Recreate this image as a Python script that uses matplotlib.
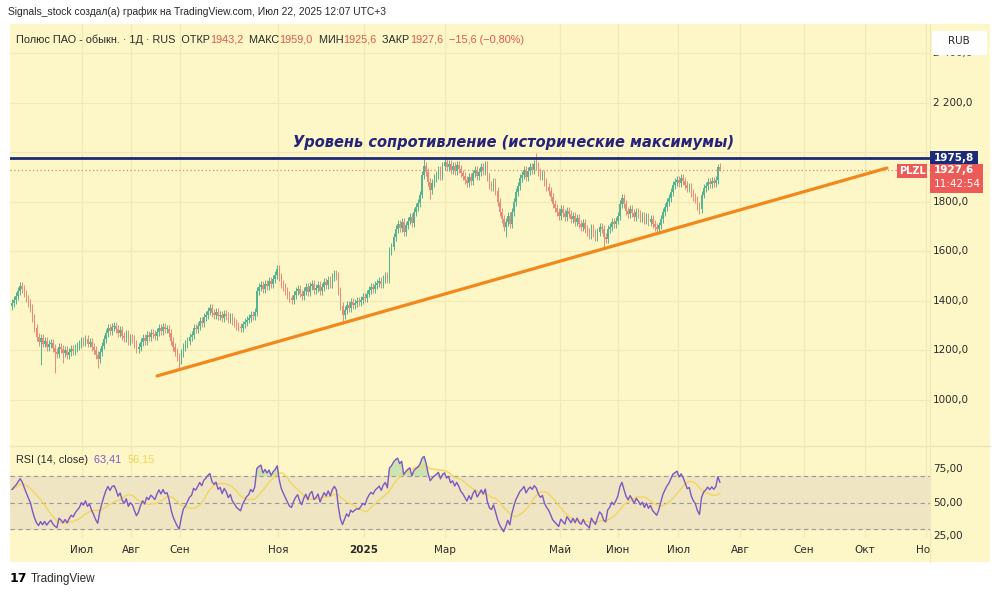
import numpy as np
import pandas as pd
import matplotlib
matplotlib.use("Agg")
import matplotlib.pyplot as plt
import matplotlib.transforms as mtrans
from matplotlib.patches import Rectangle, FancyBboxPatch

closes = [
    1390, 1405, 1420, 1440, 1462, 1450, 1430, 1410, 1390, 1370,
    1330, 1290, 1255, 1235, 1250, 1228, 1240, 1215, 1225, 1232,
    1210, 1195, 1185, 1215, 1205, 1190, 1200, 1182, 1195, 1205,
    1198, 1210, 1218, 1225, 1240, 1232, 1245, 1228, 1235, 1215,
    1200, 1180, 1165, 1195, 1220, 1245, 1270, 1290, 1278, 1295,
    1300, 1288, 1270, 1282, 1260, 1250, 1265, 1240, 1252, 1245,
    1225, 1205, 1215, 1235, 1250, 1240, 1262, 1255, 1270, 1265,
    1258, 1275, 1290, 1280, 1295, 1285, 1288, 1270, 1240, 1215,
    1195, 1175, 1160, 1190, 1215, 1225, 1240, 1255, 1262, 1290,
    1285, 1300, 1318, 1310, 1335, 1345, 1360, 1370, 1352, 1345,
    1355, 1338, 1345, 1330, 1348, 1340, 1325, 1335, 1318, 1310,
    1300, 1295, 1290, 1305, 1315, 1325, 1330, 1345, 1340, 1355,
    1440, 1455, 1465, 1448, 1470, 1462, 1480, 1468, 1490, 1505,
    1530, 1495, 1470, 1455, 1440, 1425, 1410, 1405, 1425, 1440,
    1450, 1430, 1418, 1440, 1455, 1438, 1460, 1470, 1445, 1452,
    1465, 1440, 1458, 1475, 1465, 1485, 1470, 1495, 1510, 1500,
    1440, 1380, 1345, 1365, 1385, 1370, 1395, 1385, 1392, 1398,
    1395, 1405, 1415, 1410, 1430, 1445, 1455, 1450, 1465, 1472,
    1480, 1470, 1490, 1500, 1488, 1600, 1620, 1660, 1690, 1710,
    1695, 1720, 1680, 1705, 1725, 1740, 1715, 1760, 1780, 1795,
    1830, 1910, 1945, 1920, 1880, 1850, 1875, 1895, 1910, 1930,
    1905, 1945, 1960, 1940, 1955, 1930, 1945, 1925, 1950, 1935,
    1915, 1905, 1890, 1875, 1900, 1885, 1915, 1930, 1905, 1920,
    1940, 1925, 1950, 1900, 1870, 1860, 1880, 1845, 1800, 1760,
    1730, 1700, 1720, 1745, 1710, 1760, 1800, 1840, 1865, 1895,
    1910, 1930, 1900, 1925, 1940, 1930, 1955, 1945, 1920, 1905,
    1915, 1880, 1860, 1845, 1820, 1790, 1775, 1760, 1745, 1770,
    1755, 1740, 1765, 1750, 1730, 1745, 1720, 1735, 1710, 1700,
    1715, 1690, 1680, 1665, 1695, 1675, 1660, 1680, 1700, 1690,
    1660, 1650, 1690, 1700, 1720, 1710, 1725, 1745, 1790, 1815,
    1790, 1765, 1750, 1770, 1755, 1740, 1760, 1750, 1735, 1745,
    1725, 1740, 1720, 1730, 1710, 1700, 1690, 1705, 1730, 1760,
    1780, 1800, 1815, 1840, 1870, 1880, 1890, 1875, 1895, 1885,
    1870, 1855, 1860, 1835, 1820, 1810, 1785, 1770, 1830, 1855,
    1865, 1880, 1872, 1885, 1878, 1890, 1943.2, 1927.6,
]
first_open = 1380
# заметные тени свечей
hi_marks = {4: 1475, 130: 1545, 202: 1975, 212: 1978, 232: 1965, 257: 1998,
            328: 1912, 346: 1955, 347: 1959.0}
lo_marks = {14: 1140, 21: 1110, 25: 1150, 42: 1130, 82: 1128, 162: 1305,
            205: 1810, 242: 1660, 290: 1615, 316: 1670, 337: 1750, 347: 1925.6}
wick = 16

# средние приросты/падения до начала окна (RSI около 60 на старте)
rsi_seed_gain = 15
rsi_seed_loss = 10

month_pos = [34.3, 58.3, 82.4, 130.4, 172.5, 212.3, 268.6, 297.0, 326.5,
             356.9, 388.2, 418.1, 448.0]
month_lbl = ["Июл", "Авг", "Сен", "Ноя", "2025", "Мар", "Май", "Июн", "Июл",
             "Авг", "Сен", "Окт", "Ноя"]
price_ticks = [1000, 1200, 1400, 1600, 1800, 2200, 2400]
price_lbl = ["1000,0", "1200,0", "1400,0", "1600,0", "1800,0", "2 200,0", "2 400,0"]
rsi_ticks = [25, 50, 75]
res_level = 1975.8
last_close = 1927.6
trend_x = [71.1, 428.9]
trend_y = [1097, 1937]

BG = "#fdf6c6"
GRID = "#f1e9b6"
UP = "#52b493"
DN = "#e88c7a"
NAVY = "#1d2a78"

fig = plt.figure(figsize=(10, 5.96), dpi=100)
fig.patch.set_facecolor("white")
fig.patches.append(Rectangle((10/1000, 1-562/596), 980/1000, 538/596,
                             transform=fig.transFigure, fc=BG, ec="none", zorder=-5))

ax = fig.add_axes([0.01, 1-445/596, 0.92, 421/596])
ax2 = fig.add_axes([0.01, 1-538/596, 0.92, 91/596])
axt = fig.add_axes([0.01, 1-562/596, 0.92, 24/596])
for a in (ax, ax2, axt):
    a.set_facecolor(BG)
    a.set_xlim(-1, 450)
    for sp in a.spines.values():
        sp.set_visible(False)
    a.set_xticks([])
    a.set_yticks([])
ax.set_ylim(818, 2519)
ax2.set_ylim(23.5, 91.9)
axt.set_ylim(0, 1)

# сетка
for m in month_pos:
    ax.axvline(m, color=GRID, lw=0.9, zorder=0)
    ax2.axvline(m, color=GRID, lw=0.9, zorder=0)
for p in price_ticks + [2000]:
    ax.axhline(p, color=GRID, lw=0.9, zorder=0)

# свечи
c = np.array(closes, dtype=float)
o = np.array([first_open] + closes[:-1], dtype=float)
x = np.arange(len(c))
hi = np.maximum(o, c) + wick
lo = np.minimum(o, c) - wick
for k, v in hi_marks.items():
    hi[k] = v
for k, v in lo_marks.items():
    lo[k] = v
cols = [UP if cc >= oo else DN for oo, cc in zip(o, c)]
ax.vlines(x, lo, hi, colors=cols, lw=0.7, zorder=2)
ax.bar(x, np.maximum(np.abs(c - o), 5), bottom=np.minimum(o, c), width=0.75,
       color=cols, lw=0, zorder=3)

# уровни и тренд
ax.axhline(res_level, color=NAVY, lw=2, zorder=4)
ax.axhline(last_close, color="#e9875c", lw=0.9, ls=(0, (1, 2)), zorder=1)
ax.plot(trend_x, trend_y, color="#f2871c", lw=2.3, solid_capstyle="round", zorder=4)
ax.text(245.6, 2040, "Уровень сопротивление (исторические максимумы)",
        ha="center", va="center", fontsize=10.5, fontweight="bold", style="italic",
        color="#25237a", zorder=5)

# RSI (Уайлдер)
d = np.diff(c)
au, ad = rsi_seed_gain, rsi_seed_loss
rsi_vals = [100 - 100 / (1 + au / ad)]
for dv in d:
    au = (au * 13 + max(dv, 0)) / 14
    ad = (ad * 13 + max(-dv, 0)) / 14
    rsi_vals.append(100 - 100 / (1 + au / ad))
rsi = pd.Series(rsi_vals)
rsi_ma = rsi.rolling(14, min_periods=1).mean()
ax2.axhspan(30, 70, color="#efe5c3", zorder=0)
for lvl in (30, 50, 70):
    ax2.axhline(lvl, color="#9a9a9a", lw=0.8, ls=(0, (4, 3)), zorder=1)
ax2.fill_between(x, 70, rsi, where=rsi > 70, color="#9ed39b", alpha=0.5,
                 interpolate=True, lw=0, zorder=1)
ax2.plot(x, rsi_ma, color="#f1d65e", lw=1, zorder=2)
ax2.plot(x, rsi, color="#7e57c2", lw=1, zorder=3)

# шкала времени
for m, lb in zip(month_pos, month_lbl):
    axt.text(m, 0.5, lb, ha="center", va="center", fontsize=7.5, color="#2a2a2a",
             fontweight="bold" if lb == "2025" else "normal", clip_on=True)

# правая ценовая шкала
tr = mtrans.blended_transform_factory(ax.transAxes, ax.transData)
for p, lb in zip(price_ticks, price_lbl):
    ax.text(1.0035, p, lb, transform=tr, ha="left", va="center", fontsize=7.5,
            color="#2a2a2a", clip_on=False)
tr2 = mtrans.blended_transform_factory(ax2.transAxes, ax2.transData)
for r in rsi_ticks:
    ax2.text(1.0035, r, f"{r},00", transform=tr2, ha="left", va="center",
             fontsize=7.5, color="#2a2a2a", clip_on=False)

fig.lines.append(plt.Line2D([930/1000, 930/1000], [1-562/596, 1-24/596],
                            transform=fig.transFigure, color="#efe6b4", lw=0.8))
fig.lines.append(plt.Line2D([10/1000, 990/1000], [1-446/596, 1-446/596],
                            transform=fig.transFigure, color="#efe6b4", lw=1))


def box_at(price, h_px, w_px, color, x0_px=930, dy_px=0):
    yd = ax.transData.transform((0, price))[1]
    fig.patches.append(Rectangle((x0_px/1000, (yd - h_px/2 + dy_px)/596), w_px/1000,
                                 h_px/596, transform=fig.transFigure,
                                 fc=color, ec="none", zorder=5))
    return yd


yd = box_at(res_level, 14, 48, NAVY)
fig.text(934/1000, yd/596, "1975,8", color="white", fontsize=7.5, fontweight="bold",
         va="center", ha="left", zorder=6)
yd = box_at(last_close, 29, 53, "#ec5b57", dy_px=-8)
fig.text(934/1000, yd/596, "1927,6", color="white", fontsize=7.5, fontweight="bold",
         va="center", ha="left", zorder=6)
fig.text(934/1000, (yd-14)/596, "11:42:54", color="white", fontsize=7.5,
         va="center", ha="left", zorder=6)
box_at(last_close, 14, 30, "#ec5b57", x0_px=897, dy_px=-1)
fig.text(912/1000, (yd-1)/596, "PLZL", color="white", fontsize=7, fontweight="bold",
         va="center", ha="center", zorder=6)

fig.patches.append(FancyBboxPatch((934/1000, 1-54/596), 51/1000, 22/596,
                                  boxstyle="round,pad=0.002,rounding_size=0.004",
                                  transform=fig.transFigure, fc="white", ec="none", zorder=5))
fig.text(959/1000, 1-41/596, "RUB", ha="center", va="center", fontsize=7.5,
         color="#2a2a2a", zorder=6)

# заголовки
fig.text(8/1000, 1-12/596,
         "Signals_stock создал(а) график на TradingView.com, Июл 22, 2025 12:07 UTC+3",
         fontsize=7.4, color="#2a2a2a", va="center", family="Liberation Sans")

rend = fig.canvas.get_renderer()


def chain(x_px, y_px, parts, size):
    xx = x_px
    for txt, col in parts:
        t = fig.text(xx/1000, 1-y_px/596, txt, color=col, fontsize=size, va="center",
                     family="Liberation Sans", zorder=6)
        xx = t.get_window_extent(rend).x1


RED = "#e0574f"
chain(16, 40, [("Полюс ПАО - обыкн. · 1Д · RUS  ОТКР", "#2a2a2a"), ("1943,2", RED),
               ("  МАКС", "#2a2a2a"), ("1959,0", RED), ("  МИН", "#2a2a2a"),
               ("1925,6", RED), ("  ЗАКР", "#2a2a2a"), ("1927,6", RED),
               ("  −15,6 (−0,80%)", RED)], 7.8)
chain(16, 460, [("RSI (14, close)  ", "#2a2a2a"), ("63,41  ", "#7e57c2"),
                ("56,15", "#f0d45a")], 7.8)

fig.text(10/1000, 1-579/596, "17", fontsize=9, fontweight="heavy", color="black",
         va="center", family="DejaVu Sans")
fig.text(31/1000, 1-579/596, "TradingView", fontsize=8.5, color="#2a2a2a",
         va="center", family="Liberation Sans")

fig.savefig("out.png", dpi=100, facecolor=fig.get_facecolor())
